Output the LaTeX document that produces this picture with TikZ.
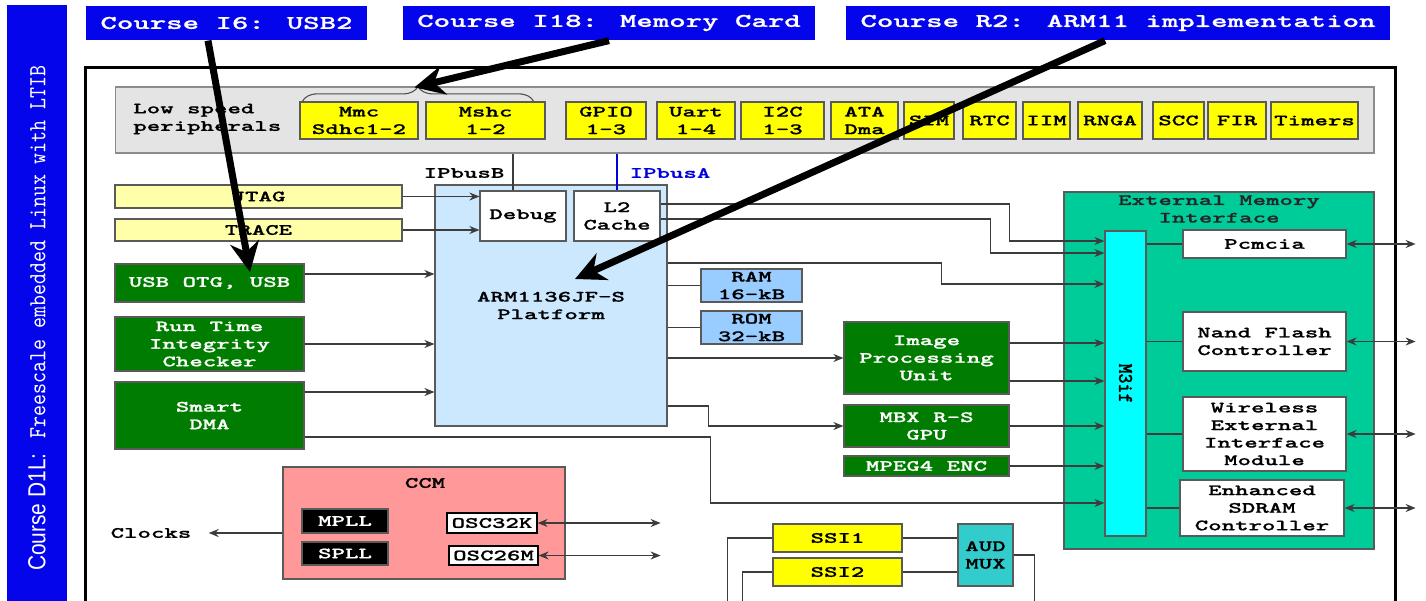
\documentclass[tikz,border=0pt]{standalone}
\usepackage{fontspec}
\usetikzlibrary{arrows.meta,decorations.pathreplacing}

\newfontfamily\blkfont{lmmonolt10-bold}[Extension=.otf, FakeStretch=1.62, FakeBold=0.8]
\newfontfamily\vertmono{lmmono10-regular}[Extension=.otf, FakeStretch=0.85]
\newfontfamily\vertbold{lmmonolt10-bold}[Extension=.otf, FakeStretch=0.9, FakeBold=0.8]
\newfontfamily\vertsans{Liberation Sans}[FakeStretch=0.85]
\newcommand\blk{\blkfont\fontsize{9}{10}\selectfont}

\definecolor{ttlblue}{RGB}{5,5,235}
\definecolor{lspgrey}{RGB}{228,228,228}
\definecolor{boxline}{RGB}{90,90,90}
\definecolor{peryellow}{RGB}{255,255,0}
\definecolor{paleyellow}{RGB}{255,255,170}
\definecolor{modgreen}{RGB}{0,125,0}
\definecolor{armblue}{RGB}{204,232,255}
\definecolor{memblue}{RGB}{153,204,255}
\definecolor{emiteal}{RGB}{0,204,153}
\definecolor{mcyan}{RGB}{0,255,255}
\definecolor{ccmpink}{RGB}{255,153,153}
\definecolor{audteal}{RGB}{51,204,204}
\definecolor{wirec}{RGB}{60,60,60}
\definecolor{ipblue}{RGB}{0,0,220}

\begin{document}
\begin{tikzpicture}[x=0.02cm, y=-0.02cm, >={Stealth[length=0.2cm,width=0.16cm]},
    box/.style={draw=boxline, line width=0.7pt, inner sep=0pt, align=center, font=\blk},
    sz/.style 2 args={minimum width=#1*0.2mm, minimum height=#2*0.2mm},
    ttl/.style={box, draw=none, fill=ttlblue, text=white, font=\blkfont\fontsize{11}{13}\selectfont},
    perbox/.style={box, fill=peryellow},
    dbgbox/.style={box, fill=paleyellow},
    gbox/.style={box, fill=modgreen, text=white},
    wbox/.style={box, fill=white},
    membox/.style={box, fill=memblue},
    pllbox/.style={box, fill=black, text=white},
    txt/.style={font=\blk, align=center, inner sep=0pt},
    wire/.style={draw=wirec, line width=0.9pt},
    curly/.style={draw=black!70, line width=0.6pt, decorate, decoration={brace, amplitude=0.3cm}},
    callout/.style={line width=0.14cm, -{Stealth[length=0.6cm,width=0.58cm]}}]
  \useasboundingbox (0,0) rectangle (1426,601);

  % course banners
  \fill[ttlblue] (7,5) rectangle (67,601);
  \node[rotate=90, text=white] (d1l) at (37,318) {{\vertsans\fontsize{14}{16}\selectfont Course D1L:}\hspace{0.3cm}{\vertmono\fontsize{14}{16}\selectfont Freescale embedded Linux with LTIB}};
  \node[ttl, sz={281}{34}] (c6) at (226.5,23) {Course I6: USB2};
  \node[ttl, sz={412}{34}] (c18) at (609,23) {Course I18: Memory Card};
  \node[ttl, sz={544}{34}] (cr2) at (1118,23) {Course R2: ARM11 implementation};

  \draw[line width=0.06cm] (85,640) -- (85,68) -- (1395,68) -- (1395,640);

  % low speed peripherals
  \node[box, fill=lspgrey, draw=black!45, sz={1259}{66}] (lsp) at (744.5,120) {};
  \node[txt, anchor=west, align=left] (lsptxt) at (133,119) {Low speed\\peripherals};
  \node[perbox, sz={118}{37}] (mmc) at (359,120.5) {Mmc\\Sdhc1-2};
  \node[perbox, sz={119}{37}] (mshc) at (485.5,120.5) {Mshc\\1-2};
  \node[perbox, sz={80}{37}] (gpio) at (606,120.5) {GPIO\\1-3};
  \node[perbox, sz={78}{37}] (uart) at (696,120.5) {Uart\\1-4};
  \node[perbox, sz={83}{37}] (i2c) at (782.5,120.5) {I2C\\1-3};
  \node[perbox, sz={67}{37}] (ata) at (864.5,120.5) {ATA\\Dma};
  \node[perbox, sz={50}{37}] (sim) at (929,120.5) {SIM};
  \node[perbox, sz={53}{37}] (rtc) at (989.5,120.5) {RTC};
  \node[perbox, sz={47}{37}] (iim) at (1046.5,120.5) {IIM};
  \node[perbox, sz={64}{37}] (rnga) at (1110,120.5) {RNGA};
  \node[perbox, sz={51}{37}] (scc) at (1178.5,120.5) {SCC};
  \node[perbox, sz={58}{37}] (fir) at (1237,120.5) {FIR};
  \node[perbox, sz={87}{37}] (timers) at (1314.5,120.5) {Timers};
  \draw[curly] ([xshift=0.06cm]mmc.north west) -- ([xshift=-0.24cm]mshc.north east);

  % ARM platform
  \node[box, fill=armblue, sz={232}{241}] (arm) at (551,305.5) {ARM1136JF-S\\Platform};
  \node[wbox, sz={86}{50}] (dbg) at (523,216) {Debug};
  \node[wbox, sz={86}{50}] (l2) at (617,216) {L2\\Cache};
  \node[txt] (ipbb) at (464,173) {IPbusB};
  \node[txt, text=ipblue] (ipba) at (670,173) {IPbusA};
  \draw[wire] ([xshift=-0.2cm]dbg.north) -- ([xshift=-0.2cm]dbg.north |- lsp.south);
  \draw[wire, draw=ipblue] (l2.north) -- (l2.north |- lsp.south);

  % left side modules
  \node[dbgbox, sz={287}{23}] (jtag) at (258.5,196.5) {JTAG};
  \node[dbgbox, sz={287}{22}] (trace) at (258.5,230) {TRACE};
  \node[gbox, sz={189}{38}] (usb) at (209.5,283) {USB OTG, USB};
  \node[gbox, sz={189}{54}] (rtic) at (209.5,344) {Run Time\\Integrity\\Checker};
  \node[gbox, sz={189}{67}] (sdma) at (209.5,415.5) {Smart\\DMA};
  \draw[wire, ->] (jtag) -- (jtag -| dbg.west);
  \draw[wire, ->] (trace) -- (trace -| dbg.west);
  \draw[wire, ->] ([yshift=0.18cm]usb.east) -- ([yshift=0.18cm]usb.east -| arm.west);
  \draw[wire, ->] (rtic) -- (rtic -| arm.west);
  \draw[wire, ->] ([yshift=0.47cm]sdma.east) -- ([yshift=0.47cm]sdma.east -| arm.west);

  % memories and multimedia
  \node[membox, sz={101}{33}] (ram) at (751.5,285.5) {RAM\\16-kB};
  \node[membox, sz={101}{33}] (rom) at (751.5,327.5) {ROM\\32-kB};
  \node[gbox, sz={165}{72}] (ipu) at (926.5,358) {Image\\Processing\\Unit};
  \node[gbox, sz={165}{42}] (mbx) at (926.5,426) {MBX R-S\\GPU};
  \node[gbox, sz={165}{20}] (mpeg) at (926.5,466) {MPEG4 ENC};
  \draw[wire] (ram.west -| arm.east) -- (ram.west);
  \draw[wire] (rom.west -| arm.east) -- (rom.west);
  \draw[wire, ->] (ipu.west -| arm.east) -- (ipu.west);
  \draw[wire, ->] ([yshift=-2.01cm]arm.east) -- ++(41,0) |- (mbx.west);

  % external memory interface
  \node[box, fill=emiteal, sz={310}{357}] (emi) at (1219,370.5) {};
  \node[txt, text=black!85] (emit) at (1219,209) {External Memory\\Interface};
  \node[box, fill=mcyan, sz={41}{305}] (m3if) at (1125.5,383.5) {};
  \node[rotate=-90, font=\vertbold\fontsize{12}{14}\selectfont] (m3ift) at (m3if) {M3if};
  \node[wbox, sz={163}{28}] (pcm) at (1264.5,244) {Pcmcia};
  \node[wbox, sz={163}{59}] (nand) at (1264.5,341.5) {Nand Flash\\Controller};
  \node[wbox, sz={163}{74}] (weim) at (1264.5,434) {Wireless\\External\\Interface\\Module};
  \node[wbox, sz={164}{56}] (esd) at (1262,508) {Enhanced\\SDRAM\\Controller};
  \draw[wire] (pcm.west -| m3if.east) -- (pcm.west);
  \draw[wire] (nand.west -| m3if.east) -- (nand.west);
  \draw[wire] (weim.west -| m3if.east) -- (weim.west);
  \draw[wire] (esd.west -| m3if.east) -- (esd.west);
  \draw[wire, <->] (pcm.east) -- ++(69,0);
  \draw[wire, <->] (nand.east) -- ++(69,0);
  \draw[wire, <->] (weim.east) -- ++(69,0);
  \draw[wire, <->] (esd.east) -- ++(71,0);

  % buses into M3if
  \draw[wire, ->] ([yshift=0.24cm]l2.east) -- ++(349,0) |- ([yshift=2.85cm]m3if.west);
  \draw[wire, ->] ([yshift=-0.06cm]l2.east) -- ++(330,0) |- ([yshift=2.61cm]m3if.west);
  \draw[wire, ->] ([yshift=0.85cm]arm.east) -- ++(274,0) |- ([yshift=1.99cm]m3if.west);
  \draw[wire, ->] ([yshift=0.3cm]ipu.east) -- ([yshift=0.3cm]ipu.east -| m3if.west);
  \draw[wire, ->] ([yshift=-0.46cm]ipu.east) -- ([yshift=-0.46cm]ipu.east -| m3if.west);
  \draw[wire, ->] (mbx) -- (mbx -| m3if.west);
  \draw[wire, ->] (mpeg) -- (mpeg -| m3if.west);
  \draw[wire, ->] ([yshift=-0.43cm]sdma.east) -- ++(406,0) |- ([yshift=-2.39cm]m3if.west);

  % clocks
  \node[box, fill=ccmpink, sz={282}{112}] (ccm) at (424,523) {};
  \node[txt] (ccmt) at (425,483) {CCM};
  \node[pllbox, sz={86}{24}] (mpll) at (345,521) {MPLL};
  \node[pllbox, sz={86}{23}] (spll) at (345,553.5) {SPLL};
  \node[wbox, draw=black, sz={90}{20}] (osc32) at (492,523) {OSC32K};
  \node[wbox, draw=black, sz={89}{19}] (osc26) at (493.5,555.5) {OSC26M};
  \node[txt] (clocks) at (151,533) {Clocks};
  \draw[wire, ->, shorten >=0.34cm] (ccm.west |- clocks) -- (clocks.east);
  \draw[wire, <->] (osc32.east) -- ++(123,0);
  \draw[wire, <->] (osc26.east) -- ++(122,0);

  % audio
  \node[perbox, sz={129}{28}] (ssi1) at (837.5,538) {SSI1};
  \node[perbox, sz={129}{28}] (ssi2) at (837.5,572) {SSI2};
  \node[box, fill=audteal, sz={55}{62}] (aud) at (985.5,555) {AUD\\MUX};
  \draw[wire] (ssi1) -- (ssi1 -| aud.west);
  \draw[wire] (ssi2) -- (ssi2 -| aud.west);
  \draw[wire] (ssi1.west) -- ++(-45,0) -- ++(0,80);
  \draw[wire] (ssi2.west) -- ++(-30,0) -- ++(0,50);
  \draw[wire] (aud.east) -- ++(21,0) -- ++(0,60);

  % course pointers
  \draw[callout] ([xshift=-0.37cm]c6.south) -- ([xshift=0.81cm,yshift=0.22cm]usb.center);
  \draw[callout] (c18.south) -- ([xshift=-0.22cm,yshift=0.28cm]mshc.north west);
  \draw[callout] ([xshift=-0.26cm]cr2.south) -- ([xshift=0.48cm,yshift=0.53cm]arm.center);
\end{tikzpicture}
\end{document}
